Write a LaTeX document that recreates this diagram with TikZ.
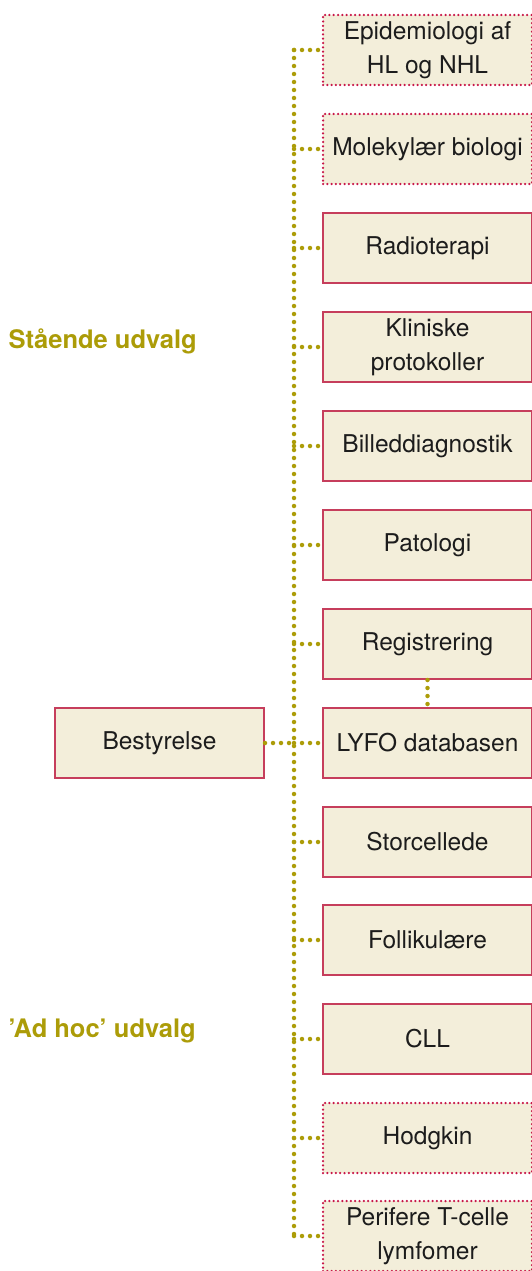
\documentclass[tikz,border=0pt]{standalone}
\usepackage{fontspec}
\setmainfont{TeX Gyre Heros}
\usetikzlibrary{positioning}

\definecolor{olive}{RGB}{172,156,8}
\definecolor{cream}{RGB}{243,238,218}
\definecolor{crimson}{RGB}{198,62,92}
\definecolor{ruby}{RGB}{200,22,72}
\definecolor{ink}{RGB}{28,28,28}

\tikzset{
  unit/.style={draw=crimson, line width=2pt, fill=cream, text=ink,
    minimum width=209pt, minimum height=70pt, inner sep=0pt,
    align=center, font=\fontsize{24.5}{34}\selectfont},
  adhoc/.style={unit, draw=ruby, line width=2.5pt, line cap=round, dash pattern=on 0pt off 4.3pt},
  link/.style={olive, line width=4.5pt, line cap=round, dash pattern=on 0pt off 8pt},
  group/.style={olive, anchor=west, font=\fontsize{25.5}{28}\selectfont\bfseries}
}

\begin{document}
\begin{tikzpicture}[x=1pt, y=-1pt]
    \useasboundingbox (0,0) rectangle (532,1271);

    % Board
    \node[unit] (best) at (159.5,743) {Bestyrelse};

    % Committees
    \node[adhoc] (epi)    at (427.5,50)   {Epidemiologi af\\HL og NHL};
    \node[adhoc] (mol)    at (427.5,149)  {Molekylær biologi};
    \node[unit]  (radio)  at (427.5,248)  {Radioterapi};
    \node[unit]  (klin)   at (427.5,347)  {Kliniske\\protokoller};
    \node[unit]  (billed) at (427.5,446)  {Billeddiagnostik};
    \node[unit]  (pato)   at (427.5,545)  {Patologi};
    \node[unit]  (reg)    at (427.5,644)  {Registrering};
    \node[unit]  (lyfo)   at (427.5,743)  {LYFO databasen};
    \node[unit]  (stor)   at (427.5,842)  {Storcellede};
    \node[unit]  (folli)  at (427.5,940)  {Follikulære};
    \node[unit]  (cll)    at (427.5,1039) {CLL};
    \node[adhoc] (hodg)   at (427.5,1138) {Hodgkin};
    \node[adhoc] (tcel)   at (427.5,1236) {Perifere T-celle\\lymfomer};

    % Group labels
    \node[group] (staaende) at (5,341)  {Stående udvalg};
    \node[group] (adhocl)   at (5,1031) {’Ad hoc’ udvalg};

    % Spine and branches
    \coordinate (spine) at (294,0);
    \draw[link] (spine |- epi.west) -- (spine |- tcel.west);
    \draw[link] (best.east) -- (spine |- best.east);
    \foreach \n in {epi,mol,radio,klin,billed,pato,reg,lyfo,stor,folli,cll,hodg,tcel}
        \draw[link] (spine |- \n.west) -- (\n.west);
    \draw[link] (reg.south) -- (lyfo.north);
\end{tikzpicture}
\end{document}
